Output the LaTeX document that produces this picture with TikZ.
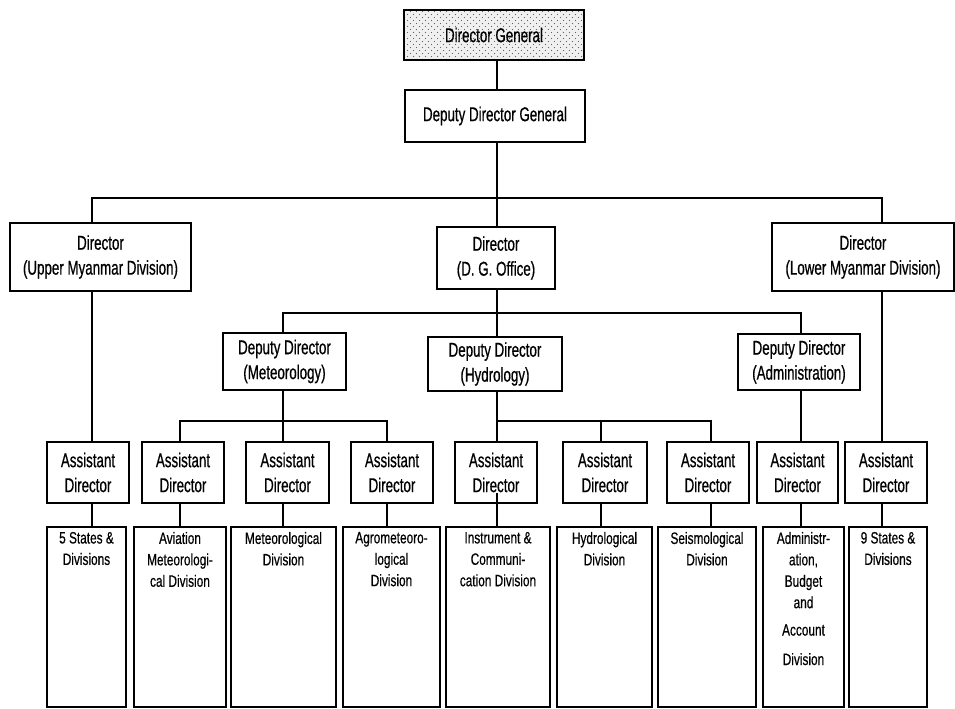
\documentclass[tikz,border=0pt]{standalone}
\usepackage{fontspec}
\setmainfont{Liberation Sans}
\newfontfamily\bigfont[FakeStretch=0.67,FakeBold=0.6]{Liberation Sans}
\newfontfamily\smallfont[FakeStretch=0.72,FakeBold=0.5]{Liberation Sans}
\usetikzlibrary{patterns.meta}
\tikzdeclarepattern{
  name=stipple,
  type=uncolored,
  bounding box={(0pt,0pt) and (6pt,6pt)},
  tile size={(6pt,6pt)},
  code={
    \fill (1.5pt,1.5pt) circle (0.7pt);
    \fill (4.5pt,4.5pt) circle (0.7pt);
  }
}
\begin{document}
\begin{tikzpicture}[x=1bp,y=-1bp,
  every path/.style={line width=1.5bp, line join=miter},
  box/.style={draw, line width=1.5bp, rectangle, inner sep=0pt, align=center,
     font=\bigfont\fontsize{20}{25}\selectfont},
  asst/.style={box, minimum height=61bp},
  unitbox/.style={draw, line width=1.5bp, rectangle, inner sep=0pt,
     font=\smallfont\fontsize{16.5}{21.5}\selectfont},
  dgbox/.style={box, preaction={fill=gray!12}, pattern=stipple, pattern color=black!60}
]
\useasboundingbox (0,0) rectangle (955,709);
\newcommand{\unit}[2]{\parbox[c][180bp][t]{#1bp}{\vspace*{5bp}\centering #2\par}}

% column coordinates
\coordinate (c1) at (92,0);
\coordinate (c2) at (180,0);
\coordinate (c3) at (283,0);
\coordinate (c4) at (387,0);
\coordinate (c5) at (497,0);
\coordinate (c6) at (601,0);
\coordinate (c7) at (711,0);
\coordinate (c8) at (801,0);
\coordinate (c9) at (882,0);
\coordinate (r1) at (0,198);
\coordinate (r2) at (0,313);
\coordinate (r3) at (0,421);

% top
\node[dgbox, minimum width=180bp, minimum height=50bp] (dg) at (494,35) {Director General};
\node[box, minimum width=180bp, minimum height=52bp] (ddg) at (495,116) {Deputy Director General};

% directors
\node[box, minimum width=181bp, minimum height=68bp] (dum) at (100.5,257) {Director\\(Upper Myanmar Division)};
\node[box, minimum width=118bp, minimum height=62bp] (ddgo) at (496,258) {Director\\(D. G. Office)};
\node[box, minimum width=182bp, minimum height=68bp] (dlm) at (863,257) {Director\\(Lower Myanmar Division)};

% deputy directors
\node[box, minimum width=123bp, minimum height=57bp] (ddm) at (284.5,361.5) {Deputy Director\\(Meteorology)};
\node[box, minimum width=134bp, minimum height=54bp] (ddh) at (495,364) {Deputy Director\\(Hydrology)};
\node[box, minimum width=122bp, minimum height=56bp] (dda) at (799,362) {Deputy Director\\(Administration)};

% assistant directors
\node[asst, minimum width=82bp] (a1) at (88,472.5) {Assistant\\Director};
\node[asst, minimum width=82bp] (a2) at (183,472.5) {Assistant\\Director};
\node[asst, minimum width=83bp] (a3) at (287.5,472.5) {Assistant\\Director};
\node[asst, minimum width=82bp] (a4) at (392,472.5) {Assistant\\Director};
\node[asst, minimum width=82bp] (a5) at (496,472.5) {Assistant\\Director};
\node[asst, minimum width=84bp] (a6) at (605,472.5) {Assistant\\Director};
\node[asst, minimum width=82bp] (a7) at (708,472.5) {Assistant\\Director};
\node[asst, minimum width=81bp] (a8) at (797.5,472.5) {Assistant\\Director};
\node[asst, minimum width=82bp] (a9) at (886,472.5) {Assistant\\Director};

% units
\node[unitbox] (b1) at (86.5,617) {\unit{79}{5 States \&\\Divisions}};
\node[unitbox] (b2) at (180,617) {\unit{92}{Aviation\\Meteorologi-\\cal Division}};
\node[unitbox] (b3) at (283.5,617) {\unit{105}{Meteorological\\Division}};
\node[unitbox] (b4) at (391.5,617) {\unit{97}{Agrometeoro-\\logical\\Division}};
\node[unitbox] (b5) at (498,617) {\unit{104}{Instrument \&\\Communi-\\cation Division}};
\node[unitbox] (b6) at (604.5,617) {\unit{95}{Hydrological\\Division}};
\node[unitbox] (b7) at (707,617) {\unit{98}{Seismological\\Division}};
\node[unitbox] (b8) at (803.5,617) {\unit{81}{Administr-\\ation,\\Budget\\and\\[6bp]Account\\[8bp]Division}};
\node[unitbox] (b9) at (888,617) {\unit{78}{9 States \&\\Divisions}};

% connectors: top
\draw (dg.south -| c5) -- (ddg.north -| c5);
\draw (ddg.south -| c5) -- (ddgo.north -| c5);
\draw (dum.north -| c1) -- (c1 |- r1) -- (c9 |- r1) -- (dlm.north -| c9);
% directors down
\draw (dum.south -| c1) -- (a1.north -| c1);
\draw (dlm.south -| c9) -- (a9.north -| c9);
\draw (ddgo.south -| c5) -- (ddh.north -| c5);
\draw (ddm.north -| c3) -- (c3 |- r2) -- (c8 |- r2) -- (dda.north -| c8);
% deputy directors down
\draw (ddm.south -| c3) -- (a3.north -| c3);
\draw (a2.north -| c2) -- (c2 |- r3) -- (c4 |- r3) -- (a4.north -| c4);
\draw (ddh.south -| c5) -- (a5.north -| c5);
\draw (c5 |- r3) -- (c7 |- r3) -- (a7.north -| c7);
\draw (c6 |- r3) -- (a6.north -| c6);
\draw (dda.south -| c8) -- (a8.north -| c8);
% assistants to units
\draw (a1.south -| c1) -- (b1.north -| c1);
\draw (a2.south -| c2) -- (b2.north -| c2);
\draw (a3.south -| c3) -- (b3.north -| c3);
\draw (a4.south -| c4) -- (b4.north -| c4);
\draw ([yshift=11bp]a5.south -| c5) -- (b5.north -| c5);
\draw (a6.south -| c6) -- (b6.north -| c6);
\draw (a7.south -| c7) -- (b7.north -| c7);
\draw (a8.south -| c8) -- (b8.north -| c8);
\draw (a9.south -| c9) -- (b9.north -| c9);
\end{tikzpicture}
\end{document}
